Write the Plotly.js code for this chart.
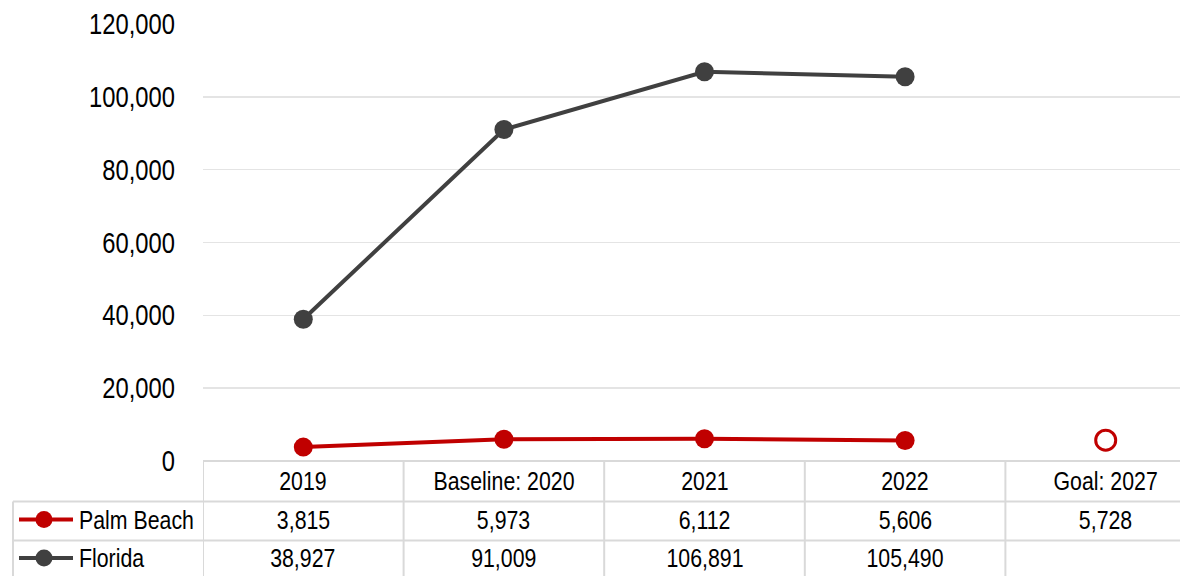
<!DOCTYPE html>
<html>
<head>
<meta charset="utf-8">
<script src="https://cdn.plot.ly/plotly-3.0.1.min.js"></script>
<style>
  html, body { margin: 0; padding: 0; background: #fff; }
  #chart { width: 1180px; height: 576px; }
</style>
</head>
<body>
<div id="chart"></div>
<script>
// Categories along the x axis (also the header row of the data table)
const categories = ['2019', 'Baseline: 2020', '2021', '2022', 'Goal: 2027'];

// Series values
const palmBeach = [3815, 5973, 6112, 5606, 5728];   // last entry is the 2027 goal
const florida   = [38927, 91009, 106891, 105490, null];

const seriesNames = ['Palm Beach', 'Florida'];
const seriesColors = ['#C00000', '#404040'];

// Y axis ticks
const yTicks = [0, 20000, 40000, 60000, 80000, 100000, 120000];
const yTickText = ['0', '20,000', '40,000', '60,000', '80,000', '100,000', '120,000'];

const W = 1180, H = 576;
const M = { l: 203, r: 0, t: 24, b: 114.6 };
const plotH = H - M.t - M.b;
const plotW = W - M.l - M.r;
const FONT = '"Liberation Sans Narrow", "Arial Narrow", "Liberation Sans", Arial, sans-serif';
const NARROW = 0.82;   // horizontal squeeze giving the narrow look of the labels

// pixel -> paper helpers for the table drawn under the plot
const py = p => (H - M.b - p) / plotH;
const px = p => (p - M.l) / plotW;

const fmt = v => (v === null || v === undefined) ? '' : v.toLocaleString('en-US');

const nActual = 4;
const traces = [
  {
    x: categories.slice(0, nActual), y: florida.slice(0, nActual),
    type: 'scatter', mode: 'lines+markers', name: seriesNames[1],
    line: { color: seriesColors[1], width: 4 },
    marker: { color: seriesColors[1], size: 19 },
    hoverinfo: 'x+y'
  },
  {
    x: categories.slice(0, nActual), y: palmBeach.slice(0, nActual),
    type: 'scatter', mode: 'lines+markers', name: seriesNames[0],
    line: { color: seriesColors[0], width: 4 },
    marker: { color: seriesColors[0], size: 19 },
    hoverinfo: 'x+y'
  },
  {
    x: [categories[4]], y: [palmBeach[4]],
    type: 'scatter', mode: 'markers', name: 'Goal',
    marker: { symbol: 'circle-open', color: seriesColors[0], size: 20, line: { width: 3, color: seriesColors[0] } },
    hoverinfo: 'x+y'
  }
];

// Table grid
const gridColor = '#d9d9d9';
const shapes = [];
const rowTop = 461.4, row1 = 502, row2 = 541, tableLeft = 13;
// vertical column separators (category boundaries)
for (let i = 0; i < categories.length; i++) {
  shapes.push({ type: 'line', xref: 'x', yref: 'paper', x0: i - 0.5, x1: i - 0.5,
    y0: py(rowTop), y1: py(H + 5), line: { color: gridColor, width: 2 } });
}
// left border of the row-label column
shapes.push({ type: 'line', xref: 'paper', yref: 'paper', x0: px(tableLeft), x1: px(tableLeft),
  y0: py(row1), y1: py(H + 5), line: { color: gridColor, width: 2 } });
// horizontal row separators
[row1, row2].forEach(r => shapes.push({ type: 'line', xref: 'paper', yref: 'paper',
  x0: px(tableLeft), x1: 1, y0: py(r), y1: py(r), line: { color: gridColor, width: 2 } }));
// header top border
shapes.push({ type: 'line', xref: 'paper', yref: 'paper', x0: 0, x1: 1,
  y0: 0, y1: 0, line: { color: gridColor, width: 2 } });

// legend keys in the row-label column
const rowCenters = [520, 558.5];
rowCenters.forEach((c, i) => {
  shapes.push({ type: 'line', xref: 'paper', yref: 'paper', x0: px(19), x1: px(73),
    y0: py(c), y1: py(c), line: { color: seriesColors[i], width: 4 } });
  shapes.push({ type: 'circle', xref: 'paper', yref: 'paper', x0: px(44 - 8.5), x1: px(44 + 8.5),
    y0: py(c + 8.5), y1: py(c - 8.5), fillcolor: seriesColors[i], line: { width: 0 } });
});

// Table text
const annotations = [];
const cellFont = { family: FONT, size: 26, color: '#000' };
categories.forEach((c, i) => {
  annotations.push({ xref: 'x', yref: 'paper', x: i, y: py(481), text: c, showarrow: false,
    xanchor: 'center', yanchor: 'middle', font: cellFont });
});
[palmBeach, florida].forEach((series, r) => {
  annotations.push({ xref: 'paper', yref: 'paper', x: px(77), y: py(rowCenters[r]), text: seriesNames[r],
    showarrow: false, xanchor: 'left', align: 'left', yanchor: 'middle', font: cellFont });
  series.forEach((v, i) => {
    annotations.push({ xref: 'x', yref: 'paper', x: i, y: py(rowCenters[r]), text: fmt(v),
      showarrow: false, xanchor: 'center', yanchor: 'middle', font: cellFont });
  });
});

const layout = {
  width: W, height: H,
  margin: M,
  paper_bgcolor: '#fff', plot_bgcolor: '#fff',
  showlegend: false,
  font: { family: FONT, color: '#000' },
  xaxis: {
    type: 'category', categoryorder: 'array', categoryarray: categories,
    range: [-0.5, -0.5 + plotW / 200.6],
    showticklabels: false, showgrid: false, zeroline: false, showline: false, ticks: ''
  },
  yaxis: {
    range: [0, 120000], tickvals: yTicks, ticktext: yTickText,
    tickfont: { family: FONT, size: 29, color: '#000' },
    showgrid: true, gridcolor: '#e4e4e4', gridwidth: 1.5,
    zeroline: false, showline: false, ticks: '', ticklabelstandoff: 27
  },
  shapes: shapes,
  annotations: annotations
};

// Squeeze each label horizontally about its own anchor point
function condense(root, selector, k) {
  root.querySelectorAll(selector).forEach(t => {
    const x = parseFloat(t.getAttribute('x') || '0');
    const tr = t.getAttribute('transform') || '';
    t.setAttribute('transform', `${tr} translate(${x},0) scale(${k},1) translate(${-x},0)`);
  });
}

const el = document.getElementById('chart');
Plotly.newPlot(el, traces, layout, { displayModeBar: false, staticPlot: true }).then(() => {
  condense(el, 'g.ytick text', NARROW);
  condense(el, 'text.annotation-text', NARROW);
});
</script>
</body>
</html>
